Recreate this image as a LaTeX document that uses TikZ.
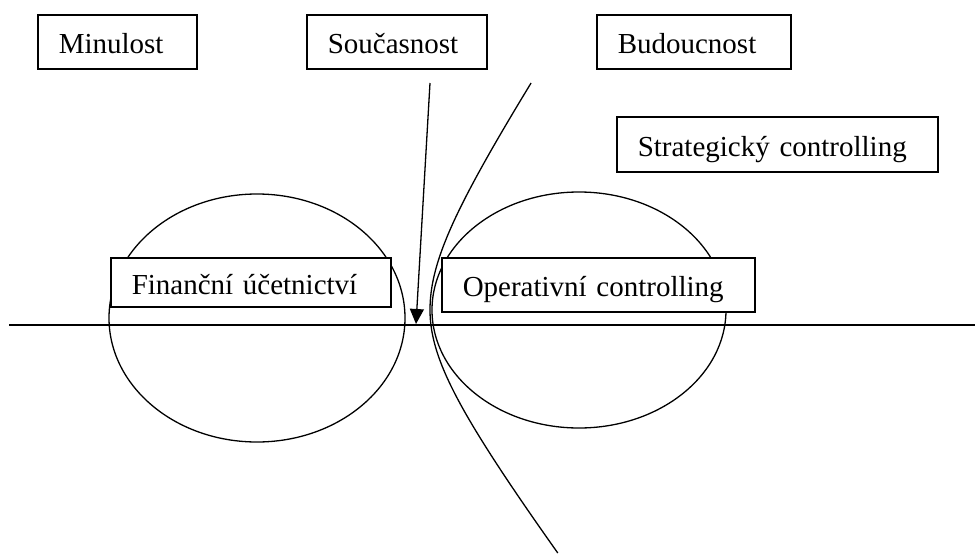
\documentclass[tikz,border=0pt]{standalone}
\usepackage{fontspec}
\setmainfont{Liberation Serif}
\usetikzlibrary{arrows.meta}
\begin{document}
\begin{tikzpicture}[x=1pt,y=-1pt,
  labelbox/.style={draw, fill=white, line width=1.5pt, anchor=north west,
    inner xsep=21pt, inner ysep=0pt, align=left,
    text height=24pt, text depth=0pt, font=\fontsize{29}{34}\selectfont},
  curve/.style={line width=1.3pt}]
\useasboundingbox (0,0) rectangle (975,554);

% time axis
\coordinate (axis west) at (9,325);
\coordinate (axis east) at (975,325);
\draw[curve] (axis west) -- (axis east);

% the two areas
\draw[curve] (257,318) ellipse [x radius=148pt, y radius=124pt];
\draw[curve] (579,310) ellipse [x radius=147pt, y radius=118pt];

% boundary between operative and strategic horizon
\draw[curve] plot[domain=-227:243, samples=140, variable=\t]
  ({430+(\t<0?59:68)*(sqrt(1+(\t/90)^2)-1)}, {310+\t});

% the present moment
\coordinate (arrow tail) at (430,83);
\coordinate (arrow head) at (416,324);
\draw[curve, -{Triangle[length=15pt,width=14pt]}] (arrow tail) -- (arrow head);

% labels
\node[labelbox, minimum height=54pt, text width=117pt] (minulost)   at (37,14)   {Minulost};
\node[labelbox, minimum height=54pt, text width=138pt] (soucasnost) at (306,14)  {Současnost};
\node[labelbox, minimum height=54pt, text width=152pt] (budoucnost) at (596,14)  {Budoucnost};
\node[labelbox, minimum height=55pt, text width=279pt] (strategicky) at (616,116) {Strategický controlling};
\node[labelbox, minimum height=49pt, text width=238pt] (financni)   at (110,257) {Finanční účetnictví};
\node[labelbox, minimum height=54pt, text width=271pt] (operativni) at (441,257) {Operativní controlling};
\end{tikzpicture}
\end{document}
